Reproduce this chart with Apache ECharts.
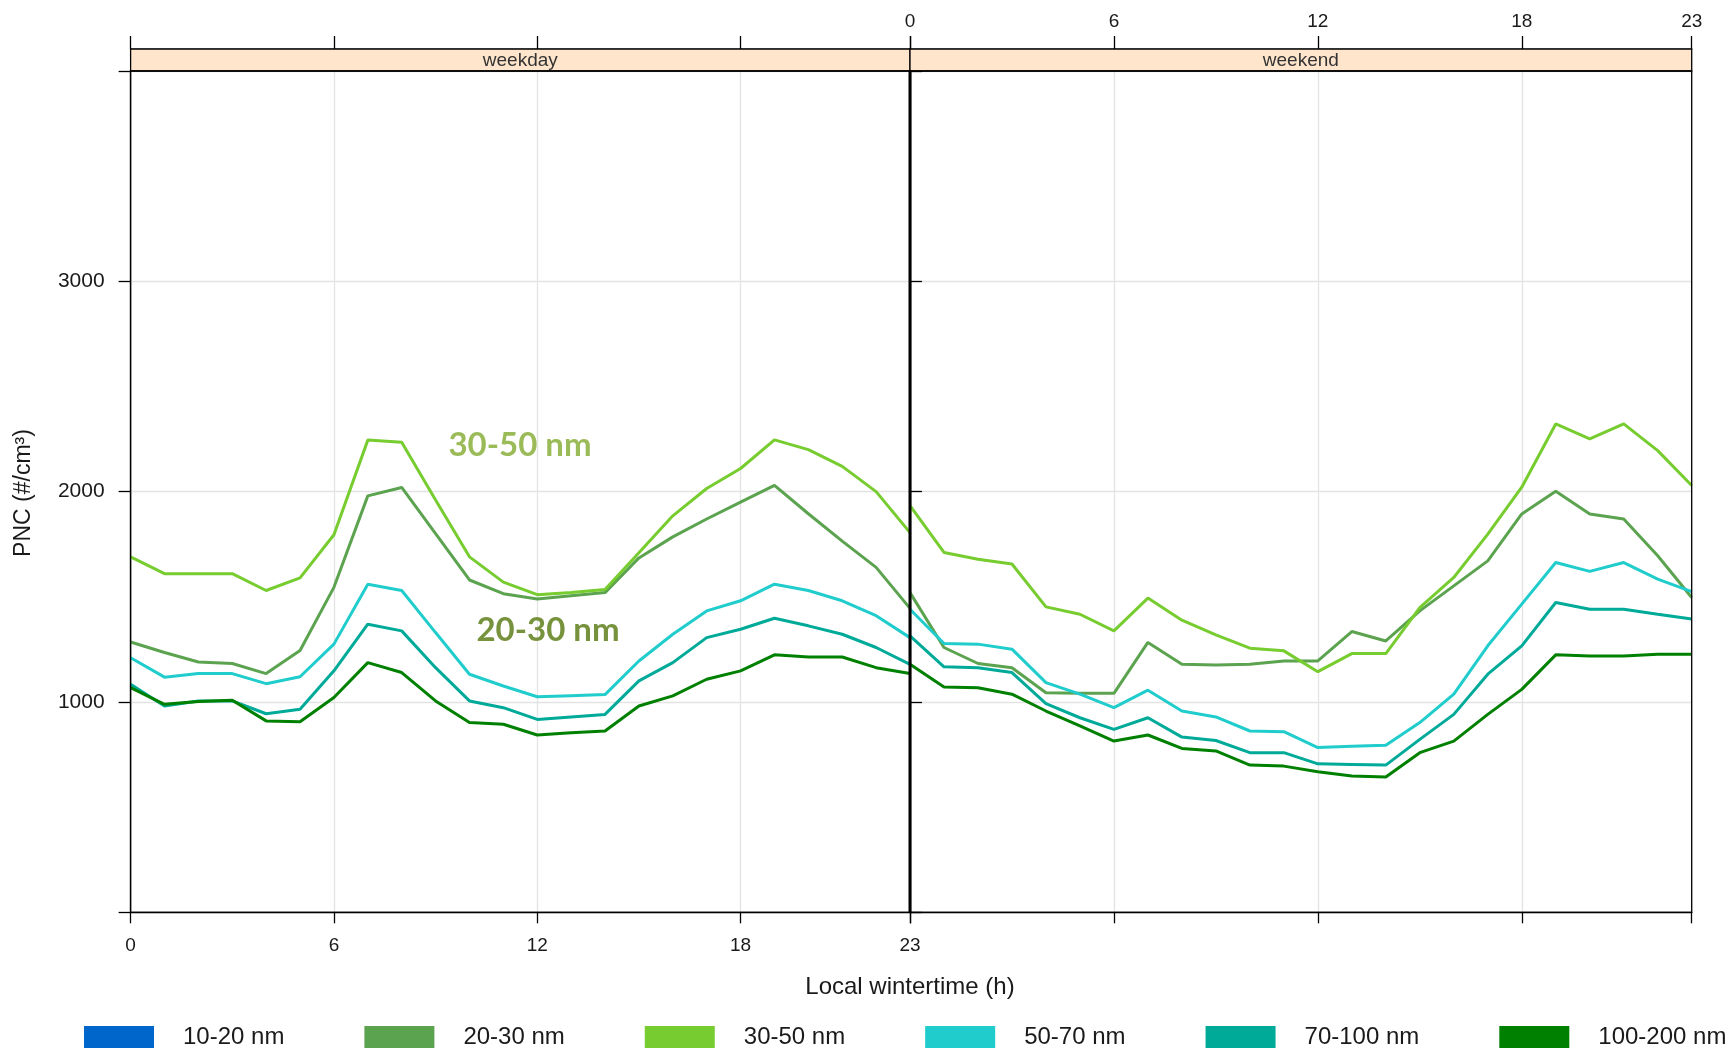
<!DOCTYPE html>
<html>
<head>
<meta charset="utf-8">
<script src="https://cdn.jsdelivr.net/npm/echarts@6/dist/echarts.min.js"></script>
<style>
html,body{margin:0;padding:0;background:#fff;}
#chart{width:1736px;height:1052px;}
</style>
</head>
<body>
<div id="chart"></div>
<script>
// ---------------- data ----------------
const hours = [0,1,2,3,4,5,6,7,8,9,10,11,12,13,14,15,16,17,18,19,20,21,22,23];
const panels = ['weekday', 'weekend'];
const sizeBins = ['10-20 nm', '20-30 nm', '30-50 nm', '50-70 nm', '70-100 nm', '100-200 nm'];
const binColors = ['#0066CC', '#5CA350', '#77CC2F', '#20CCCC', '#00AA99', '#008000'];
const yTickValues = [0, 1000, 2000, 3000, 4000];
const xTickStep = 6;

// weekday (values in #/cm3, hourly)
const weekday_10_20 = [];
const weekday_20_30 = [1285,1235,1190,1183,1135,1245,1545,1980,2020,1800,1580,1515,1490,1505,1520,1685,1785,1870,1950,2030,1895,1765,1640,1445];
const weekday_30_50 = [1690,1610,1610,1610,1530,1590,1795,2245,2235,1960,1690,1570,1510,1520,1535,1710,1885,2015,2110,2246,2200,2120,2000,1805];
const weekday_50_70 = [1210,1118,1135,1135,1087,1120,1275,1560,1530,1330,1132,1076,1025,1030,1035,1195,1322,1433,1481,1560,1530,1481,1410,1306];
const weekday_70_100 = [1084,981,1005,1005,944,965,1148,1370,1338,1163,1005,973,917,929,941,1100,1187,1306,1346,1398,1362,1322,1259,1179];
const weekday_100_200 = [1068,989,1002,1008,910,906,1021,1187,1140,1005,902,894,843,854,862,981,1029,1108,1148,1224,1214,1214,1163,1135];

// weekend
const weekend_10_20 = [];
const weekend_20_30 = [1520,1259,1183,1163,1044,1041,1041,1283,1179,1176,1179,1195,1195,1335,1290,1433,1552,1671,1894,2002,1894,1870,1695,1497];
const weekend_30_50 = [1933,1711,1679,1656,1452,1417,1338,1494,1389,1319,1256,1243,1144,1230,1230,1449,1592,1798,2021,2322,2251,2322,2195,2029];
const weekend_50_70 = [1441,1278,1275,1251,1092,1037,973,1056,957,929,862,859,783,790,794,902,1037,1267,1465,1663,1621,1663,1584,1525];
const weekend_70_100 = [1314,1167,1163,1140,992,925,870,925,833,817,759,759,706,703,700,822,941,1132,1267,1473,1441,1441,1417,1394];
const weekend_100_200 = [1179,1071,1068,1037,957,886,814,843,779,767,700,695,668,648,643,759,814,941,1060,1224,1219,1219,1227,1227];

const weekdaySeries = [weekday_10_20, weekday_20_30, weekday_30_50, weekday_50_70, weekday_70_100, weekday_100_200];
const weekendSeries = [weekend_10_20, weekend_20_30, weekend_30_50, weekend_50_70, weekend_70_100, weekend_100_200];

const annotations = [
  {text: '30-50 nm', color: '#9BBB59'},
  {text: '20-30 nm', color: '#76923C'}
];

// ---------------- layout ----------------
const FONT = '"Liberation Sans", Arial, sans-serif';
const L = 130.6, M = 910, R = 1691.7, T = 71, B = 912.3;
const STRIP_H = 22;
const H = B - T;
const yMin = yTickValues[0], yMax = yTickValues[yTickValues.length - 1];
const yStep = yTickValues[1] - yTickValues[0];
const xMin = hours[0], xMax = hours[hours.length - 1];

const chart = echarts.init(document.getElementById('chart'), null, {renderer: 'canvas'});

function xAxisCfg(gridIndex, position, showLabel, extra) {
  return Object.assign({
    type: 'value', gridIndex: gridIndex, position: position,
    min: xMin, max: xMax, interval: xTickStep,
    axisLine: {show: true, onZero: false, lineStyle: {color: '#000', width: 1.3}},
    axisTick: {show: true, inside: false, length: 11, lineStyle: {color: '#000', width: 1.3}},
    axisLabel: {show: showLabel, fontFamily: FONT, fontSize: 19, color: '#1a1a1a', margin: 24},
    splitLine: {show: false}
  }, extra || {});
}

const xAxes = [
  xAxisCfg(0, 'bottom', true, {splitLine: {show: true, lineStyle: {color: '#e3e3e3', width: 1.3}}}),
  xAxisCfg(1, 'bottom', false, {splitLine: {show: true, lineStyle: {color: '#e3e3e3', width: 1.3}}}),
  xAxisCfg(0, 'top', false, {offset: STRIP_H, axisTick: {show: true, length: 13, lineStyle: {color: '#000', width: 1.3}}}),
  xAxisCfg(1, 'top', true, {offset: STRIP_H, axisTick: {show: true, length: 13, lineStyle: {color: '#000', width: 1.3}},
    axisLabel: {show: true, fontFamily: FONT, fontSize: 19, color: '#1a1a1a', margin: 18}})
];

const yAxes = [
  {
    type: 'value', gridIndex: 0, position: 'left', min: yMin, max: yMax, interval: yStep,
    axisLine: {show: true, lineStyle: {color: '#000', width: 1.3}},
    axisTick: {show: true, inside: false, length: 12, lineStyle: {color: '#000', width: 1.3}},
    axisLabel: {show: true, fontFamily: FONT, fontSize: 21, color: '#1a1a1a', margin: 26,
      formatter: v => (v === yMin || v === yMax) ? '' : String(v)},
    splitLine: {show: true, lineStyle: {color: '#e3e3e3', width: 1.3}}
  },
  {
    type: 'value', gridIndex: 1, position: 'right', min: yMin, max: yMax, interval: yStep,
    axisLine: {show: true, lineStyle: {color: '#000', width: 1.3}},
    axisTick: {show: true, inside: false, length: 12, lineStyle: {color: '#000', width: 1.3}},
    axisLabel: {show: false},
    splitLine: {show: true, lineStyle: {color: '#e3e3e3', width: 1.3}}
  }
];

const series = [];
sizeBins.forEach((name, i) => {
  [weekdaySeries[i], weekendSeries[i]].forEach((vals, p) => {
    series.push({
      type: 'line', name: name,
      xAxisIndex: p, yAxisIndex: p,
      data: vals.map((v, k) => [hours[k], v]),
      showSymbol: false, symbol: 'none',
      lineStyle: {color: binColors[i], width: 3},
      itemStyle: {color: binColors[i]},
      emphasis: {disabled: true},
      z: 3 + i
    });
  });
});

const graphics = [];
// strips
[[L, M], [M, R]].forEach(([a, b], p) => {
  graphics.push({type: 'rect', shape: {x: a, y: T - STRIP_H, width: b - a, height: STRIP_H},
    style: {fill: '#FFE5CC', stroke: '#000', lineWidth: 1.3}, z: 20});
  graphics.push({type: 'text', x: (a + b) / 2, y: T - STRIP_H / 2 + 1,
    style: {text: panels[p], font: '19px ' + FONT, fill: '#333', align: 'center', verticalAlign: 'middle'}, z: 21});
  graphics.push({type: 'rect', shape: {x: a, y: T, width: b - a, height: H},
    style: {fill: 'none', stroke: '#000', lineWidth: 1.3}, z: 30, silent: true});
});
// thick panel divider
graphics.push({type: 'line', shape: {x1: M, y1: T, x2: M, y2: B}, style: {stroke: '#000', lineWidth: 3}, z: 31});
// axis titles
graphics.push({type: 'text', x: M, y: 987,
  style: {text: 'Local wintertime (h)', font: '24px ' + FONT, fill: '#1a1a1a', align: 'center', verticalAlign: 'middle'}, z: 40});
graphics.push({type: 'text', x: 24, y: 493, rotation: Math.PI / 2,
  style: {text: 'PNC (#/cm³)', font: '23px ' + FONT, fill: '#1a1a1a', align: 'center', verticalAlign: 'middle'}, z: 40});
// in-plot annotations
graphics.push({type: 'text', x: 520, y: 445,
  style: {text: annotations[0].text, font: 'bold 33px Lato, "Open Sans", sans-serif', fill: annotations[0].color, align: 'center', verticalAlign: 'middle'}, z: 40});
graphics.push({type: 'text', x: 548, y: 630,
  style: {text: annotations[1].text, font: 'bold 33px Lato, "Open Sans", sans-serif', fill: annotations[1].color, align: 'center', verticalAlign: 'middle'}, z: 40});

const option = {
  animation: false,
  backgroundColor: '#ffffff',
  grid: [
    {left: L, top: T, width: M - L, height: H, containLabel: false},
    {left: M, top: T, width: R - M, height: H, containLabel: false}
  ],
  xAxis: xAxes,
  yAxis: yAxes,
  legend: {
    data: sizeBins.map(n => ({name: n, icon: 'rect'})),
    left: 84, top: 1025, padding: 0,
    itemWidth: 70, itemHeight: 22, itemGap: 80,
    selectedMode: false,
    textStyle: {fontFamily: FONT, fontSize: 24, color: '#1a1a1a', padding: [0, 0, 0, 24]}
  },
  series: series,
  graphic: graphics
};
chart.setOption(option);
</script>
</body>
</html>
